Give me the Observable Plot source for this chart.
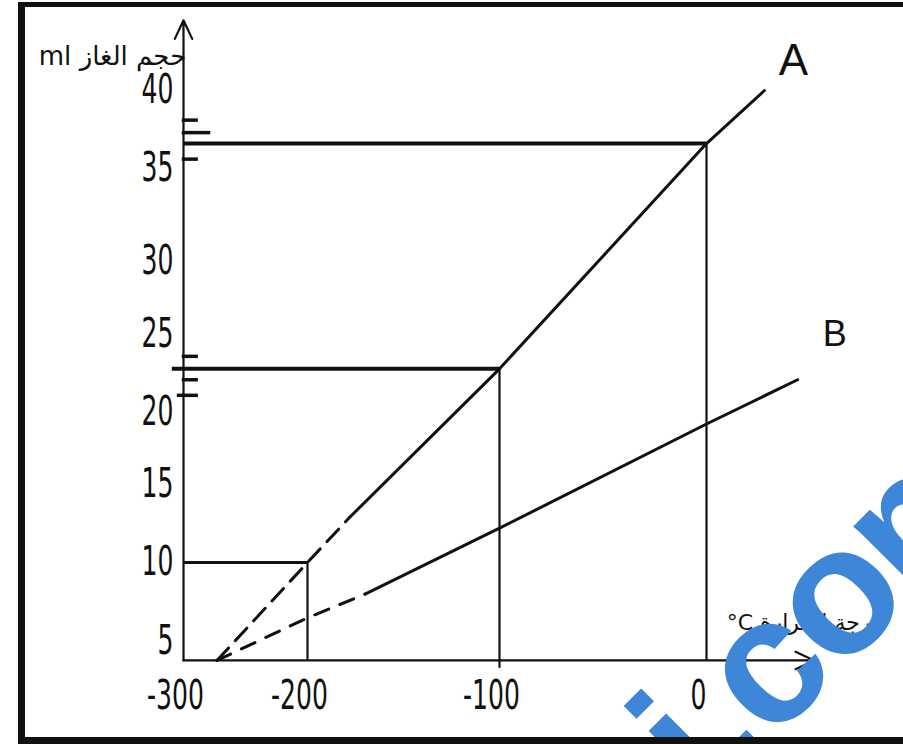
<!DOCTYPE html>
<html><head><meta charset="utf-8">
<script src="https://cdn.jsdelivr.net/npm/d3@7"></script>
<script src="https://cdn.jsdelivr.net/npm/@observablehq/plot@0.6"></script>
<style>
html,body{margin:0;padding:0;background:#fff;overflow:hidden;}
#wrap{position:relative;width:903px;height:744px;}
#border{position:absolute;left:18px;top:2px;width:900px;height:742px;box-sizing:border-box;border-left:7px solid #111;border-top:5px solid #111;border-bottom:7px solid #111;pointer-events:none;}
</style></head><body>
<div id="wrap"><div id="chart"></div><div id="border"></div></div>
<script>
// ---- data ----
const xTicks = [-300, -200, -100, 0];            // temperature tick labels (°C)
const yTicks = [5, 10, 15, 20, 25, 30, 35, 40];  // gas volume tick labels (ml)
const yTitle = "ml حجم الغاز";
const xTitle = "°C درجة الحرارة";
const seriesNames = ["A", "B"];
const aTemp = [-273, -200, -178, -100, 0, 28];
const aVol  = [3.8, 10, 12.9, 22.8, 36.6, 40];
const bTemp = [-273, -200, -170, -100, 0, 44];
const bVol  = [3.8, 6.5, 8.0, 12.2, 19.2, 22.1];
const solidFrom = 2;                              // index where the extrapolated (dashed) part ends
const readTemp = [-200, -100, 0];                 // reading lines
const readVol  = [10, 22.8, 36.6];
const readLeft = [-300, -309, -300];
const readBottom = [3.8, 3.3, 3.8];
const markVol = [38.1, 37.3, 35.6, 23.6, 22.1, 21.1];   // small marks on the y axis
const markLeft = [-301, -301, -301, -301, -301, -305];
const markRight = [-288, -278, -288, -288, -288, -288];
const labelTemp = [42, 62];
const labelVol = [41.9, 25];
const axisBase = 3.8;
const axisTop = 44.5;
const axisEndTemp = 52;

// ---- tables ----
const A = aTemp.map((t, i) => ({t, v: aVol[i]}));
const B = bTemp.map((t, i) => ({t, v: bVol[i]}));
const reads = readTemp.map((t, i) => ({t, v: readVol[i], left: readLeft[i], bottom: readBottom[i]}));
const marksY = markVol.map((v, i) => ({v, l: markLeft[i], r: markRight[i]}));
const labels = seriesNames.map((s, i) => ({s, t: labelTemp[i], v: labelVol[i]}));

const NUM_FONT = "'DejaVu Sans Condensed','DejaVu Sans',sans-serif";
const INK = "#111";

const chart = Plot.plot({
  width: 903, height: 744,
  marginLeft: 183, marginRight: 90, marginTop: 20, marginBottom: 84,
  style: {background: "transparent", fontFamily: NUM_FONT, color: INK, overflow: "hidden"},
  x: {type: "linear", domain: xTicks, range: [183, 307, 499, 706]},
  y: {type: "linear", domain: yTicks, range: [641, 562, 484, 412, 334, 261, 168, 90]},
  marks: [
    Plot.axisX({ticks: xTicks, tickSize: 0, tickPadding: 20, tickFormat: d => String(d), fontSize: 34, dx: -8, label: null}),
    Plot.axisY({ticks: yTicks, tickSize: 0, tickPadding: 10, tickFormat: d => String(d), fontSize: 34, label: null}),
    // axes with arrows
    Plot.arrow([0], {x1: () => xTicks[0], y1: () => axisBase, x2: () => xTicks[0], y2: () => axisTop, stroke: INK, strokeWidth: 2.2, headLength: 14, headAngle: 50}),
    Plot.arrow([0], {x1: () => xTicks[0], y1: () => axisBase, x2: () => axisEndTemp, y2: () => axisBase, stroke: INK, strokeWidth: 2.2, headLength: 14, headAngle: 50}),
    // reading lines
    Plot.ruleX(reads, {x: "t", y1: "bottom", y2: "v", stroke: INK, strokeWidth: 2.2}),
    Plot.ruleY(reads.slice(0, 1), {y: "v", x1: "left", x2: "t", stroke: INK, strokeWidth: 3}),
    Plot.ruleY(reads.slice(1), {y: "v", x1: "left", x2: "t", stroke: INK, strokeWidth: 4}),
    Plot.ruleY(marksY, {y: "v", x1: "l", x2: "r", stroke: INK, strokeWidth: 3.5}),
    // gas lines
    Plot.line(A.slice(0, solidFrom + 1), {x: "t", y: "v", stroke: INK, strokeWidth: 3, strokeDasharray: "17,10"}),
    Plot.line(A.slice(solidFrom), {x: "t", y: "v", stroke: INK, strokeWidth: 3}),
    Plot.line(B.slice(0, solidFrom + 1), {x: "t", y: "v", stroke: INK, strokeWidth: 3, strokeDasharray: "15,12"}),
    Plot.line(B.slice(solidFrom), {x: "t", y: "v", stroke: INK, strokeWidth: 3}),
    Plot.text(labels.slice(0, 1), {x: "t", y: "v", text: "s", fontSize: 44, fontFamily: "'Liberation Sans',Arial,sans-serif", fill: INK}),
    Plot.text(labels.slice(1), {x: "t", y: "v", text: "s", fontSize: 36, fontFamily: "'Liberation Sans',Arial,sans-serif", fill: INK}),
    // titles
    Plot.text([yTitle], {text: d => d, frameAnchor: "top-left", textAnchor: "middle", lineAnchor: "middle", dx: -71, dy: 36, fontSize: 26, fontFamily: "'DejaVu Sans',sans-serif", fill: INK}),
    Plot.text([xTitle], {text: d => d, frameAnchor: "bottom-right", textAnchor: "middle", lineAnchor: "middle", dx: -10, dy: -38, fontSize: 22, fontFamily: "'DejaVu Sans',sans-serif", fill: INK})
  ]
});

// tall, condensed digits as in the reference
chart.querySelectorAll('g[aria-label="x-axis tick label"] text, g[aria-label="y-axis tick label"] text').forEach(t => {
  const tr = t.getAttribute("transform");
  if (tr && tr.includes("translate")) t.setAttribute("transform", tr + " scale(0.82,1.18)");
});

// watermark overlay
d3.select(chart).append("text")
  .attr("transform", "translate(707,807) rotate(-45)")
  .attr("text-anchor", "start")
  .attr("font-family", "Liberation Sans, Arial, sans-serif")
  .attr("font-weight", "bold")
  .attr("font-size", 180)
  .attr("letter-spacing", -5)
  .attr("fill", "#3d86d8")
  .text("i.com");

document.getElementById("chart").appendChild(chart);
</script>
</body></html>
